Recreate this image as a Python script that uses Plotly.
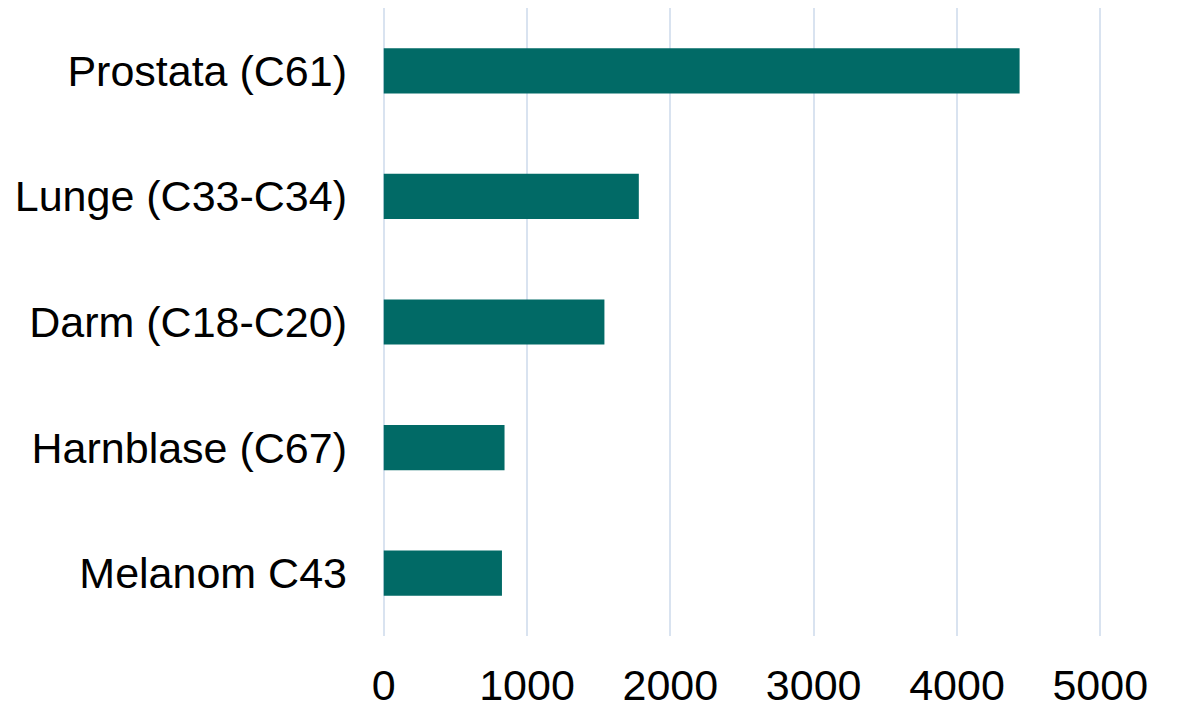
import plotly.graph_objects as go

categories = ["Prostata (C61)", "Lunge (C33-C34)", "Darm (C18-C20)", "Harnblase (C67)", "Melanom C43"]
values = [4437, 1780, 1540, 843, 825]
x_ticks = [0, 1000, 2000, 3000, 4000, 5000]

bar_color = "#016A66"
grid_color = "#D9E3F0"

fig = go.Figure()

fig.add_trace(
    go.Bar(
        x=values, y=categories,
        orientation="h",
        marker=dict(color=bar_color, line=dict(width=0)),
        showlegend=False,
    )
)

# page body has an 8px margin, so the figure is sized 8px smaller than the window
fig.update_layout(
    xaxis=dict(
        range=[-12, 5012], tickvals=x_ticks, showgrid=True, gridcolor=grid_color, gridwidth=1.5,
        zeroline=False, showline=False, ticks="", ticklabelstandoff=20, automargin=False,
    ),
    yaxis=dict(
        autorange="reversed", showgrid=False, zeroline=False, showline=False, ticks="",
        ticklabelstandoff=34, automargin=False,
    ),
    bargap=0.64,
    font=dict(family="Liberation Sans, Arial, sans-serif", size=43, color="black"),
    plot_bgcolor="white",
    paper_bgcolor="white",
    width=1170,
    height=700,
    margin=dict(l=374, r=76, t=0, b=72, pad=0),
)

fig.write_html("out.html")
